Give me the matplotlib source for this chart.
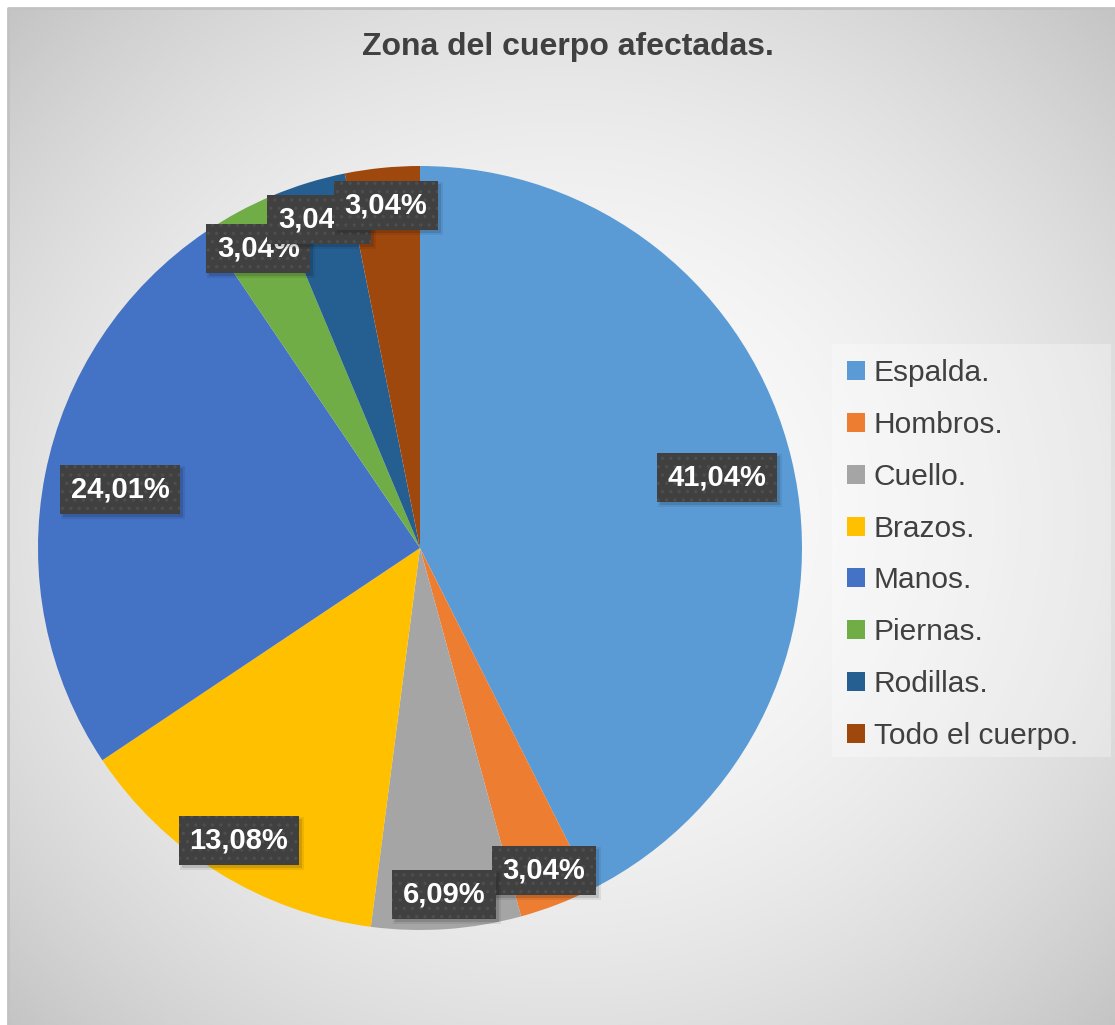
import numpy as np
import matplotlib
matplotlib.use('Agg')
import matplotlib.pyplot as plt
from matplotlib.patches import Patch, Rectangle

plt.rcParams['font.family'] = ['Liberation Sans', 'DejaVu Sans']
plt.rcParams['hatch.linewidth'] = 1.2

# datos
zonas = ['Espalda.', 'Hombros.', 'Cuello.', 'Brazos.', 'Manos.', 'Piernas.',
         'Rodillas.', 'Todo el cuerpo.']
porcentajes = [41.04, 3.04, 6.09, 13.08, 24.01, 3.04, 3.04, 3.04]
etiquetas = ['41,04%', '3,04%', '6,09%', '13,08%', '24,01%', '3,04%', '3,04%', '3,04%']
colores = ['#5B9BD5', '#ED7D31', '#A5A5A5', '#FFC000', '#4472C4', '#70AD47',
           '#255E91', '#9E480E']
titulo = 'Zona del cuerpo afectadas.'

# distancia radial de cada etiqueta (fraccion del radio)
dist_etiqueta = [0.80, 0.905, 0.91, 0.90, 0.80, 0.89, 0.90, 0.90]

W, H = 1115, 1025
fig = plt.figure(figsize=(W / 100, H / 100), dpi=100)
fig.patch.set_facecolor('white')

# fondo con degradado radial
bg = fig.add_axes([8 / W, 0, (W - 8) / W, (H - 8) / H])
ny, nx = 400, 440
yy, xx = np.mgrid[0:ny, 0:nx]
dx = (xx - nx * 0.5) / (nx * 0.5)
dy = (yy - ny * 0.5) / (ny * 0.5)
d2 = (dx ** 2 + dy ** 2) / 2.0
gris = (252 - 56 * d2) / 255.0
bg.imshow(np.dstack([gris, gris, gris]), aspect='auto', extent=[0, 1, 0, 1],
          interpolation='bilinear')
bg.set_xlim(0, 1)
bg.set_ylim(0, 1)
bg.axis('off')
bg.plot([0, 0, 1], [0, 1, 1], color='#c2c2c2', lw=2, transform=bg.transAxes,
        clip_on=False)

# pastel
cx, cy, r = 420, 548, 382
ax = fig.add_axes([(cx - r) / W, (H - cy - r) / H, 2 * r / W, 2 * r / H])
wedges, _ = ax.pie(porcentajes, colors=colores, startangle=90, counterclock=False,
                   radius=1, wedgeprops=dict(linewidth=0))
ax.set_xlim(-1, 1)
ax.set_ylim(-1, 1)
ax.axis('off')

textos = []
for i, w in enumerate(wedges):
    ang = np.deg2rad((w.theta1 + w.theta2) / 2)
    x = dist_etiqueta[i] * np.cos(ang)
    y = dist_etiqueta[i] * np.sin(ang)
    t = ax.text(x, y, etiquetas[i], ha='center', va='center', color='white',
                fontsize=21, fontweight='bold', zorder=11 + 2 * i,
                bbox=dict(boxstyle='square,pad=0.36', facecolor='#404040',
                          edgecolor='#4e4e4e', linewidth=0, hatch='..'))
    textos.append(t)

fig.text(0.5 * (362 + 773) / W, 1 - 47 / H, titulo, ha='center', va='center',
         fontsize=23, fontweight='bold', color='#404040')

# sombras suaves de las etiquetas
fig.canvas.draw()
inv = ax.transAxes.inverted()
for i, t in enumerate(textos):
    bb = t.get_bbox_patch().get_window_extent()
    for k, a in [(0, 0.12), (2, 0.07)]:
        p0 = inv.transform((bb.x0 + 3 - k, bb.y0 - 3 - k))
        p1 = inv.transform((bb.x1 + 3 + k, bb.y1 - 3 + k))
        ax.add_patch(Rectangle(p0, p1[0] - p0[0], p1[1] - p0[1],
                               transform=ax.transAxes, facecolor='black',
                               alpha=a, linewidth=0, zorder=10 + 2 * i,
                               clip_on=False))

# leyenda
fig.patches.append(Rectangle((832 / W, 1 - 757 / H), (1111 - 832) / W,
                             (757 - 344) / H, transform=fig.transFigure,
                             facecolor='white', alpha=0.3, edgecolor='none',
                             zorder=1))
handles = [Patch(facecolor=c, edgecolor='none') for c in colores]
leg = fig.legend(handles, zonas, loc='upper left',
                 bbox_to_anchor=(832 / W, 1 - 344 / H), borderaxespad=0,
                 fontsize=21.5, frameon=False, labelcolor='#404040',
                 handlelength=0.6, handleheight=0.6, handletextpad=0.3,
                 labelspacing=0.8, borderpad=0.5)

fig.savefig('out.png', dpi=100)
